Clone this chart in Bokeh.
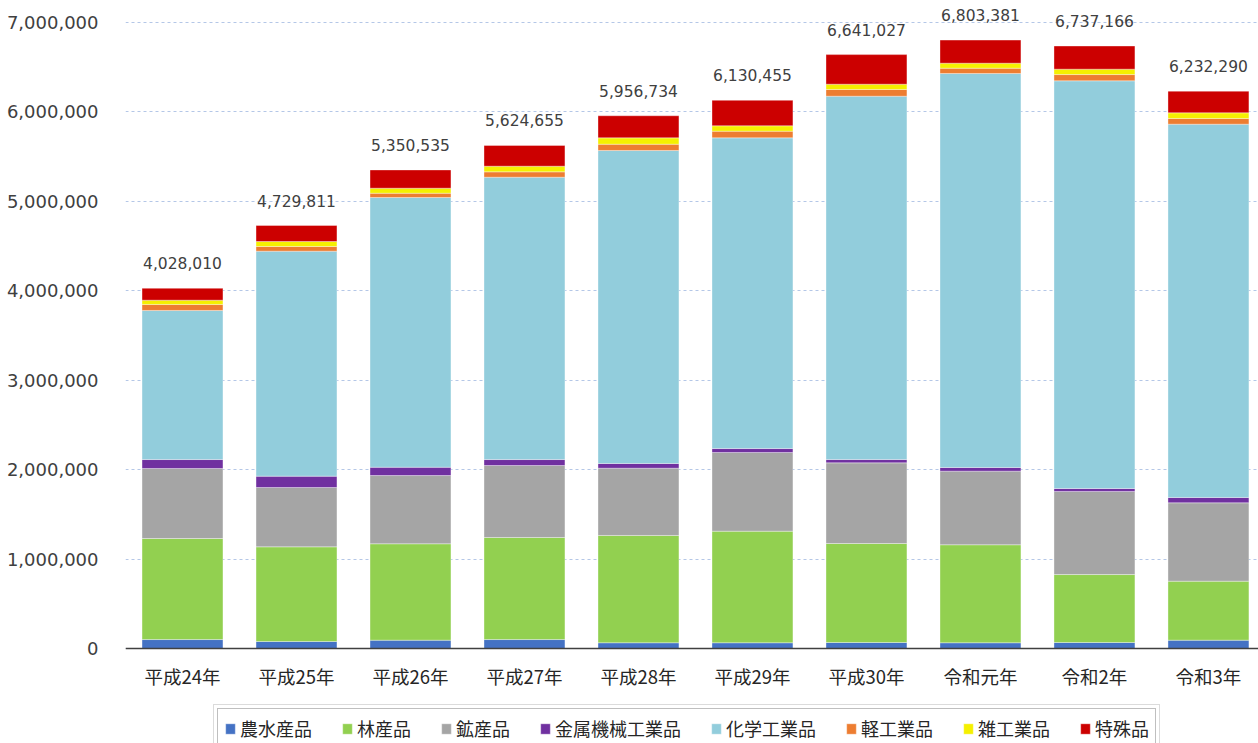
from bokeh.plotting import figure
from bokeh.models import (ColumnDataSource, Range1d, FixedTicker, NumeralTickFormatter,
                          Legend, LegendItem, LabelSet, Span)
from bokeh.core.properties import value
from bokeh.embed import file_html
from bokeh.resources import INLINE

# ---------------- data ----------------
years = ["平成24年", "平成25年", "平成26年", "平成27年", "平成28年",
         "平成29年", "平成30年", "令和元年", "令和2年", "令和3年"]
series_names = ["農水産品", "林産品", "鉱産品", "金属機械工業品",
                "化学工業品", "軽工業品", "雑工業品", "特殊品"]

nosui   = [100000, 78000, 93000, 100000, 64000, 64000, 67000, 64000, 67000, 93000]
rin     = [1130000, 1059000, 1078000, 1141000, 1200000, 1248000, 1107000, 1096000, 760000, 660000]
kou     = [783000, 663000, 763000, 805000, 752000, 880000, 902000, 823000, 929000, 876000]
kinzoku = [100000, 127000, 93000, 67000, 53000, 44000, 37000, 41000, 33000, 60000]
kagaku  = [1667000, 2516000, 3016000, 3157000, 3500000, 3474000, 4063000, 4406000, 4559000, 4174000]
kei     = [67000, 52000, 48000, 60000, 70000, 75000, 75000, 59000, 70000, 64000]
zatsu   = [48000, 56000, 56000, 63000, 71000, 60000, 59000, 56000, 60000, 63000]
tokushu = [133000, 179000, 204000, 232000, 247000, 285000, 331000, 258000, 259000, 242000]

totals = [4028010, 4729811, 5350535, 5624655, 5956734,
          6130455, 6641027, 6803381, 6737166, 6232290]

y_ticks = [0, 1000000, 2000000, 3000000, 4000000, 5000000, 6000000, 7000000]

colors = ["#4472c4", "#92d050", "#a5a5a5", "#7030a0",
          "#92cddc", "#ed7d31", "#f5f000", "#cc0000"]

# ---------------- sources ----------------
keys = ["s0", "s1", "s2", "s3", "s4", "s5", "s6", "s7"]
series = [nosui, rin, kou, kinzoku, kagaku, kei, zatsu, tokushu]
xs = list(range(len(years)))
data = {"x": xs}
for k, s in zip(keys, series):
    data[k] = s
src = ColumnDataSource(data)

lsrc = ColumnDataSource(dict(x=xs, total=totals, label=[f"{t:,}" for t in totals]))
csrc = ColumnDataSource(dict(x=xs, y=[0] * len(xs), label=years))

# ---------------- figure ----------------
# frame covers the whole canvas height so that the category labels and
# the legend (cut off at the bottom, as in the reference) sit inside it
p = figure(width=1258, height=743,
           x_range=Range1d(-0.5, 9.439), y_range=Range1d(-1062300, 7246000),
           output_backend="svg", toolbar_location=None,
           min_border_left=125, min_border_right=0,
           min_border_top=0, min_border_bottom=0)
p.outline_line_color = None
p.background_fill_color = "white"
p.border_fill_color = "white"

renderers = p.vbar_stack(keys, x="x", width=0.71, source=src,
                         fill_color=colors, line_color="white",
                         line_alpha=0.35, line_width=1)

labels = LabelSet(x="x", y="total", text="label", source=lsrc,
                  text_align="center", text_baseline="alphabetic", y_offset=19,
                  text_font=value("DejaVu Sans"), text_font_size="15.5px",
                  text_color="#404040")
p.add_layout(labels)

cat_labels = LabelSet(x="x", y="y", text="label", source=csrc,
                      text_align="center", text_baseline="middle", y_offset=-28,
                      text_font=value("Noto Sans CJK JP"), text_font_size="18.5px",
                      text_color="#262626")
p.add_layout(cat_labels)

baseline = Span(location=0, dimension="width", line_color="#404040", line_width=1.6)
p.add_layout(baseline)

# axes
p.xaxis.visible = False

p.yaxis.ticker = FixedTicker(ticks=y_ticks)
p.yaxis.formatter = NumeralTickFormatter(format="0,0")
p.yaxis.major_label_text_font = "DejaVu Sans"
p.yaxis.major_label_text_font_size = "18px"
p.yaxis.major_label_text_color = "#404040"
p.yaxis.axis_line_color = None
p.yaxis.major_tick_line_color = None
p.yaxis.minor_tick_line_color = None
p.yaxis.major_label_standoff = 21

p.xgrid.grid_line_color = None
p.ygrid.grid_line_color = "#b4c7e7"
p.ygrid.grid_line_dash = "3 3"
p.ygrid.grid_line_width = 1

# legend (double border)
items = [LegendItem(label=n, renderers=[r]) for n, r in zip(series_names, renderers)]
common = dict(orientation="horizontal", glyph_width=12, glyph_height=13,
              label_standoff=4, spacing=29,
              label_text_font="Noto Sans CJK JP", label_text_font_size="18px",
              label_text_color="#262626", background_fill_color="white",
              background_fill_alpha=1.0, margin=0)
vx, vy = 92, -5
leg_out = Legend(items=items, location=(vx - 4, vy - 4), padding=10,
                 border_line_color="#b8b8b8", border_line_width=1, **common)
leg_in = Legend(items=items, location=(vx, vy), padding=6,
                border_line_color="#808080", border_line_width=1, **common)
p.add_layout(leg_out)
p.add_layout(leg_in)

open("out.html", "w").write(file_html(p, INLINE))
